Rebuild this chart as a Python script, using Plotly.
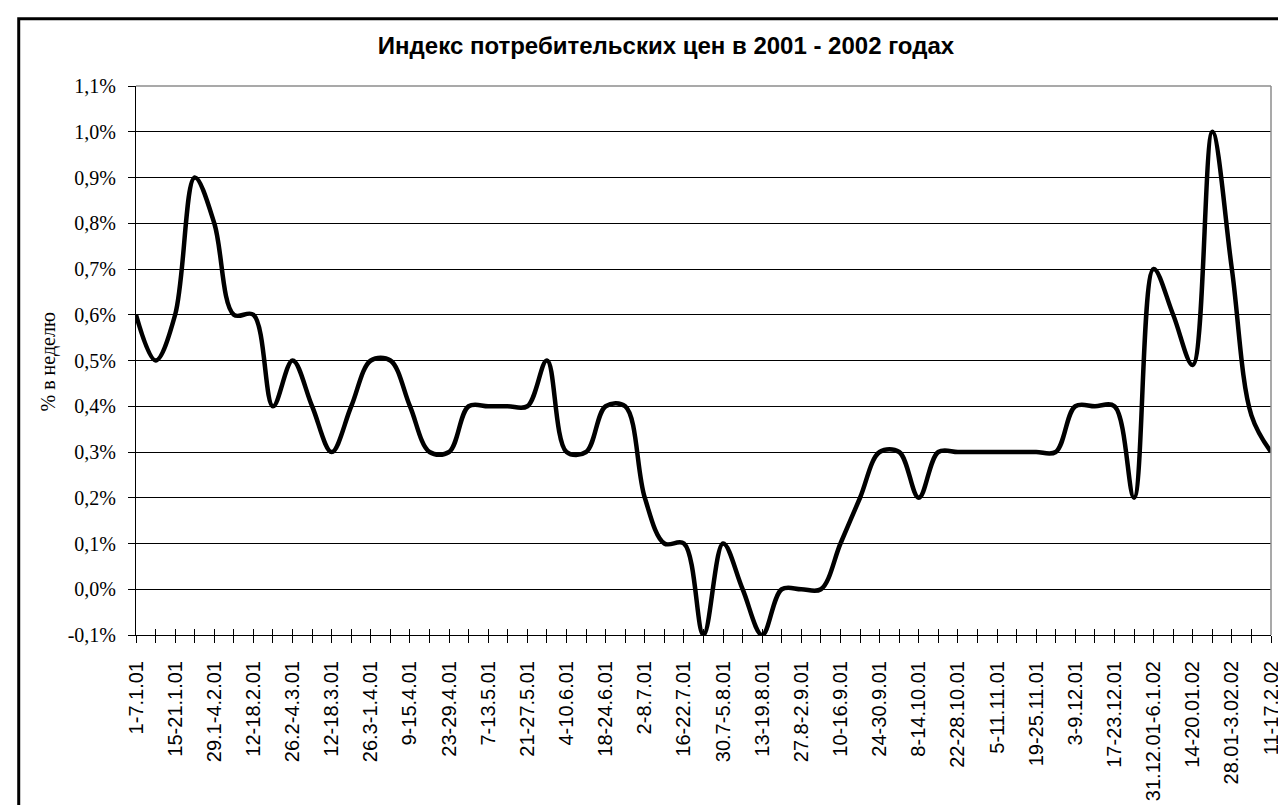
import plotly.graph_objects as go

# ---- data ----
weeks = [
    "1-7.1.01", "8-14.1.01", "15-21.1.01", "22-28.1.01", "29.1-4.2.01", "5-11.2.01",
    "12-18.2.01", "19-25.2.01", "26.2-4.3.01", "5-11.3.01", "12-18.3.01", "19-25.3.01",
    "26.3-1.4.01", "2-8.4.01", "9-15.4.01", "16-22.4.01", "23-29.4.01", "30.4-6.5.01",
    "7-13.5.01", "14-20.5.01", "21-27.5.01", "28.5-3.6.01", "4-10.6.01", "11-17.6.01",
    "18-24.6.01", "25.6-1.7.01", "2-8.7.01", "9-15.7.01", "16-22.7.01", "23-29.7.01",
    "30.7-5.8.01", "6-12.8.01", "13-19.8.01", "20-26.8.01", "27.8-2.9.01", "3-9.9.01",
    "10-16.9.01", "17-23.9.01", "24-30.9.01", "1-7.10.01", "8-14.10.01", "15-21.10.01",
    "22-28.10.01", "29.10-4.11.01", "5-11.11.01", "12-18.11.01", "19-25.11.01", "26.11-2.12.01",
    "3-9.12.01", "10-16.12.01", "17-23.12.01", "24-30.12.01", "31.12.01-6.1.02", "7-13.01.02",
    "14-20.01.02", "21-27.01.02", "28.01-3.02.02", "4-10.02.02", "11-17.2.02",
]
cpi_pct = [
    0.6, 0.5, 0.6, 0.9, 0.8, 0.6, 0.6, 0.4, 0.5, 0.4,
    0.3, 0.4, 0.5, 0.5, 0.4, 0.3, 0.3, 0.4, 0.4, 0.4,
    0.4, 0.5, 0.3, 0.3, 0.4, 0.4, 0.2, 0.1, 0.1, -0.1,
    0.1, 0.0, -0.1, 0.0, 0.0, 0.0, 0.1, 0.2, 0.3, 0.3,
    0.2, 0.3, 0.3, 0.3, 0.3, 0.3, 0.3, 0.3, 0.4, 0.4,
    0.4, 0.2, 0.7, 0.6, 0.49, 1.0, 0.7, 0.38, 0.3,
]
y_tickvals = [-0.1, 0.0, 0.1, 0.2, 0.3, 0.4, 0.5, 0.6, 0.7, 0.8, 0.9, 1.0, 1.1]
y_ticktext = ["-0,1%", "0,0%", "0,1%", "0,2%", "0,3%", "0,4%", "0,5%", "0,6%",
              "0,7%", "0,8%", "0,9%", "1,0%", "1,1%"]
x_ticktext = [w if i % 2 == 0 else "" for i, w in enumerate(weeks)]
title_text = "Индекс потребительских цен в 2001 - 2002 годах"
y_title = "% в неделю"

# ---- layout geometry (pixels) ----
W, H = 1286, 805
L, R, T, B = 128, 1270, 78, 633
pw, ph = R - L, B - T


def px_x(px):
    return (px - L) / pw


def px_y(py):
    return (B - py) / ph


fig = go.Figure()
fig.add_trace(go.Scatter(
    x=weeks, y=cpi_pct, mode="lines",
    line=dict(color="black", width=4.5, shape="spline", smoothing=1.0),
    hoverinfo="x+y", showlegend=False,
))
# invisible helper trace for the inner half of crossing ticks
fig.add_trace(go.Scatter(
    x=list(range(len(weeks))), y=cpi_pct, mode="lines", xaxis="x2",
    line=dict(width=0), opacity=0, hoverinfo="skip", showlegend=False,
))

serif = "Liberation Serif, Times New Roman, serif"
sans = "Liberation Sans, Arial, sans-serif"

fig.update_layout(
    width=W, height=H,
    margin=dict(l=L, r=W - R, t=T, b=H - B, pad=0),
    paper_bgcolor="white", plot_bgcolor="white",
    showlegend=False,
    title=dict(text="<b>" + title_text + "</b>", xref="container", yref="container",
               x=658 / W, y=1 - 38 / H, xanchor="center", yanchor="middle",
               font=dict(family=sans, size=24, color="black")),
    xaxis=dict(
        type="category", range=[0, len(weeks) - 1], autorange=False,
        tickmode="array", tickvals=weeks, ticktext=x_ticktext,
        tickangle=-90, ticks="outside", ticklen=7, tickwidth=1, tickcolor="black",
        tickfont=dict(family=sans, size=20, color="black"),
        ticklabelstandoff=10,
        showgrid=False, showline=True, linecolor="black", linewidth=1,
        zeroline=False, fixedrange=True,
    ),
    xaxis2=dict(
        overlaying="x", anchor="y", range=[0, len(weeks) - 1], autorange=False,
        tickmode="linear", tick0=0, dtick=1, ticks="inside", ticklen=6,
        tickwidth=1, tickcolor="black", showticklabels=False, showgrid=False,
        showline=False, zeroline=False, side="bottom",
    ),
    yaxis=dict(
        range=[-0.1, 1.1], autorange=False,
        tickmode="array", tickvals=y_tickvals, ticktext=y_ticktext,
        ticks="outside", ticklen=7, tickwidth=1, tickcolor="black",
        tickfont=dict(family=serif, size=20, color="black"),
        ticklabelstandoff=8,
        showgrid=True, gridcolor="black", gridwidth=1,
        showline=True, linecolor="black", linewidth=1,
        zeroline=False, fixedrange=True,
    ),
)

# gray plot-area border (top and right)
fig.add_shape(type="line", xref="paper", yref="paper", x0=0, x1=1, y0=1, y1=1,
              line=dict(color="#8c8c8c", width=1.5), layer="above")
fig.add_shape(type="line", xref="paper", yref="paper", x0=1, x1=1, y0=0, y1=1,
              line=dict(color="#8c8c8c", width=1.5), layer="above")
# outer chart frame (extends beyond page on right and bottom)
fig.add_shape(type="rect", xref="paper", yref="paper",
              x0=px_x(10), x1=px_x(1300), y0=px_y(900), y1=px_y(10),
              line=dict(color="black", width=3), fillcolor="rgba(0,0,0,0)", layer="above")

fig.add_annotation(text=y_title, xref="paper", yref="paper",
                   x=px_x(40), y=px_y(357), xanchor="center", yanchor="middle",
                   textangle=-90, showarrow=False,
                   font=dict(family=serif, size=20, color="black"))

fig.write_html("out.html")
